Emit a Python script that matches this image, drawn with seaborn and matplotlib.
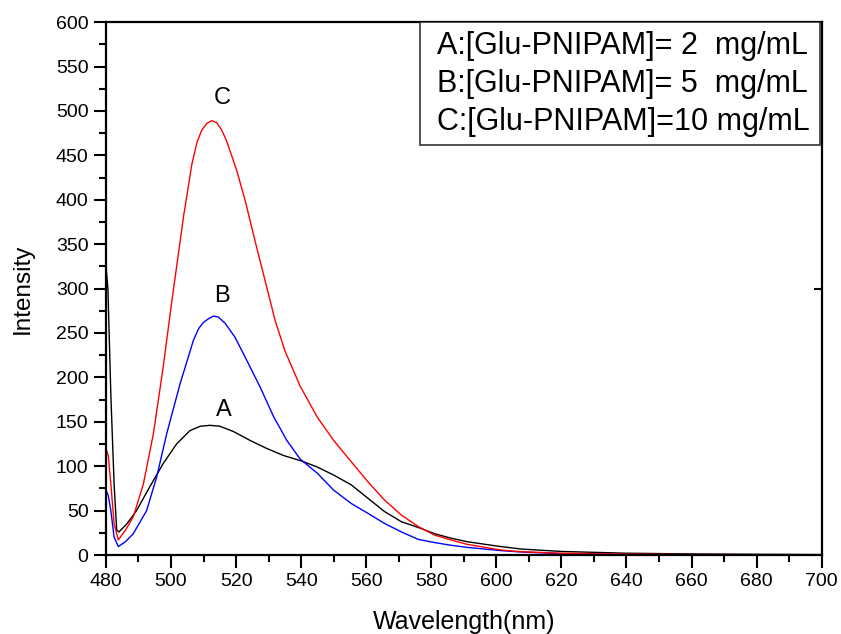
import matplotlib
matplotlib.use("Agg")
import matplotlib.pyplot as plt
import seaborn as sns
import pandas as pd
from matplotlib.patches import Rectangle
from matplotlib.ticker import MultipleLocator

wl_A = [480, 480.6, 481.5, 482.5, 483.3, 484, 486.4, 489.4, 493.5, 497.6, 501.7, 505.8, 509, 512, 515,
        519.2, 524.3, 529.4, 534.6, 540, 545, 550, 555.4, 560.5, 565.6, 570.8, 576, 581, 586, 591,
        601.5, 607.7, 620, 640, 660, 680, 700]
int_A = [325, 300, 180, 80, 28, 26, 35, 50, 77, 103, 125, 140, 145, 146, 145,
         139, 129, 120, 112, 106, 99, 90, 79, 64, 49, 37.5, 31, 24, 19, 15,
         9.4, 6.7, 4, 2, 1.2, 0.8, 0.5]

wl_B = [480, 480.7, 481.5, 482.5, 483.8, 486, 488.4, 492.5, 495.6, 498.7, 502.8, 506.9, 508.5, 510,
        511.5, 513, 514.5, 516.6, 519.7, 523.3, 527.4, 531.5, 535.6, 539.7, 545, 550, 555.4, 560.5,
        565.6, 570.8, 576, 581, 586, 591, 601.5, 607.7, 620, 640, 660, 700]
int_B = [73, 67, 50, 20, 9.5, 15, 24, 50, 88, 137, 193, 242, 255, 262,
         266, 269, 268, 261, 245, 219, 189, 156, 129, 108, 92, 73, 58, 47,
         35.6, 26, 17.6, 14, 11, 8.6, 4.9, 3.4, 1.5, 0.5, 0.2, 0.2]

wl_C = [480, 480.7, 481.5, 482.5, 483.8, 486, 488.4, 491.5, 494.6, 497.6, 500, 503.8, 506.4, 508,
        509.4, 511, 512.5, 514, 515.5, 517, 520.2, 522.8, 525.8, 528.9, 532, 535, 539.7, 545, 550,
        555.4, 560.5, 565.6, 570.8, 576, 581, 586, 591, 601.5, 607.7, 620, 640, 660, 700]
int_C = [120, 112, 80, 35, 17, 28, 43, 80, 137, 212, 279, 380, 440, 465,
         478, 486, 489, 487, 479, 467, 433, 399, 354, 309, 264, 230, 190, 155, 129,
         105, 82.5, 62, 45, 32, 22.5, 17, 12, 5.6, 3.7, 2, 1, 0.5, 0.3]

series = ["A", "B", "C"]
legend_lines = ["A:[Glu-PNIPAM]= 2  mg/mL",
                "B:[Glu-PNIPAM]= 5  mg/mL",
                "C:[Glu-PNIPAM]=10 mg/mL"]
label_pos = [(516.3, 163), (515.7, 292), (515.7, 515)]
colors = {"A": "black", "B": "blue", "C": "red"}

df = pd.concat([
    pd.DataFrame({"wl": wl_A, "I": int_A, "s": "A"}),
    pd.DataFrame({"wl": wl_B, "I": int_B, "s": "B"}),
    pd.DataFrame({"wl": wl_C, "I": int_C, "s": "C"}),
], ignore_index=True)

sns.set_style("ticks")
plt.rcParams["font.family"] = ["Liberation Sans", "DejaVu Sans"]
plt.rcParams["text.color"] = "black"
plt.rcParams["axes.labelcolor"] = "black"

fig = plt.figure(figsize=(8.41, 6.34), dpi=100)
ax = fig.add_axes([0.126, 0.1246, 0.851, 0.8405])

sns.lineplot(data=df, x="wl", y="I", hue="s", palette=colors, sort=False,
             estimator=None, linewidth=1.0, legend=False, ax=ax)

ax.set_xlim(480, 700)
ax.set_ylim(0, 600)
ax.xaxis.set_major_locator(MultipleLocator(20))
ax.xaxis.set_minor_locator(MultipleLocator(10))
ax.yaxis.set_major_locator(MultipleLocator(50))
ax.yaxis.set_minor_locator(MultipleLocator(25))
ax.tick_params(axis="both", which="major", direction="out", length=9, width=1.5,
               labelsize=14, colors="black")
ax.tick_params(axis="x", which="major", pad=4)
ax.tick_params(axis="both", which="minor", direction="out", length=5, width=1.5, colors="black")
for sp in ax.spines.values():
    sp.set_visible(True)
    sp.set_linewidth(1.6)
    sp.set_color("black")

sec = ax.secondary_yaxis("right")
sec.set_yticks([300])
sec.set_yticklabels([""])
sec.tick_params(direction="in", length=6, width=1.5, colors="black")
sec.spines["right"].set_visible(False)

ax.set_xlabel("Wavelength(nm)", fontsize=18, labelpad=14)
ax.set_ylabel("Intensity", fontsize=17.5, labelpad=16)

for s, (x, y) in zip(series, label_pos):
    ax.text(x, y, s, fontsize=17, ha="center", va="center")

ax.add_patch(Rectangle((0.4385, 0.769), 0.5585, 0.231, transform=ax.transAxes,
                       fill=True, facecolor="white", edgecolor="#333333", linewidth=1.2, zorder=5))
for i, t in enumerate(legend_lines):
    ax.text(0.4625, 0.955 - i * 0.0715, t, transform=ax.transAxes, fontsize=22,
            ha="left", va="center", zorder=6)

fig.savefig("out.png", dpi=100)
